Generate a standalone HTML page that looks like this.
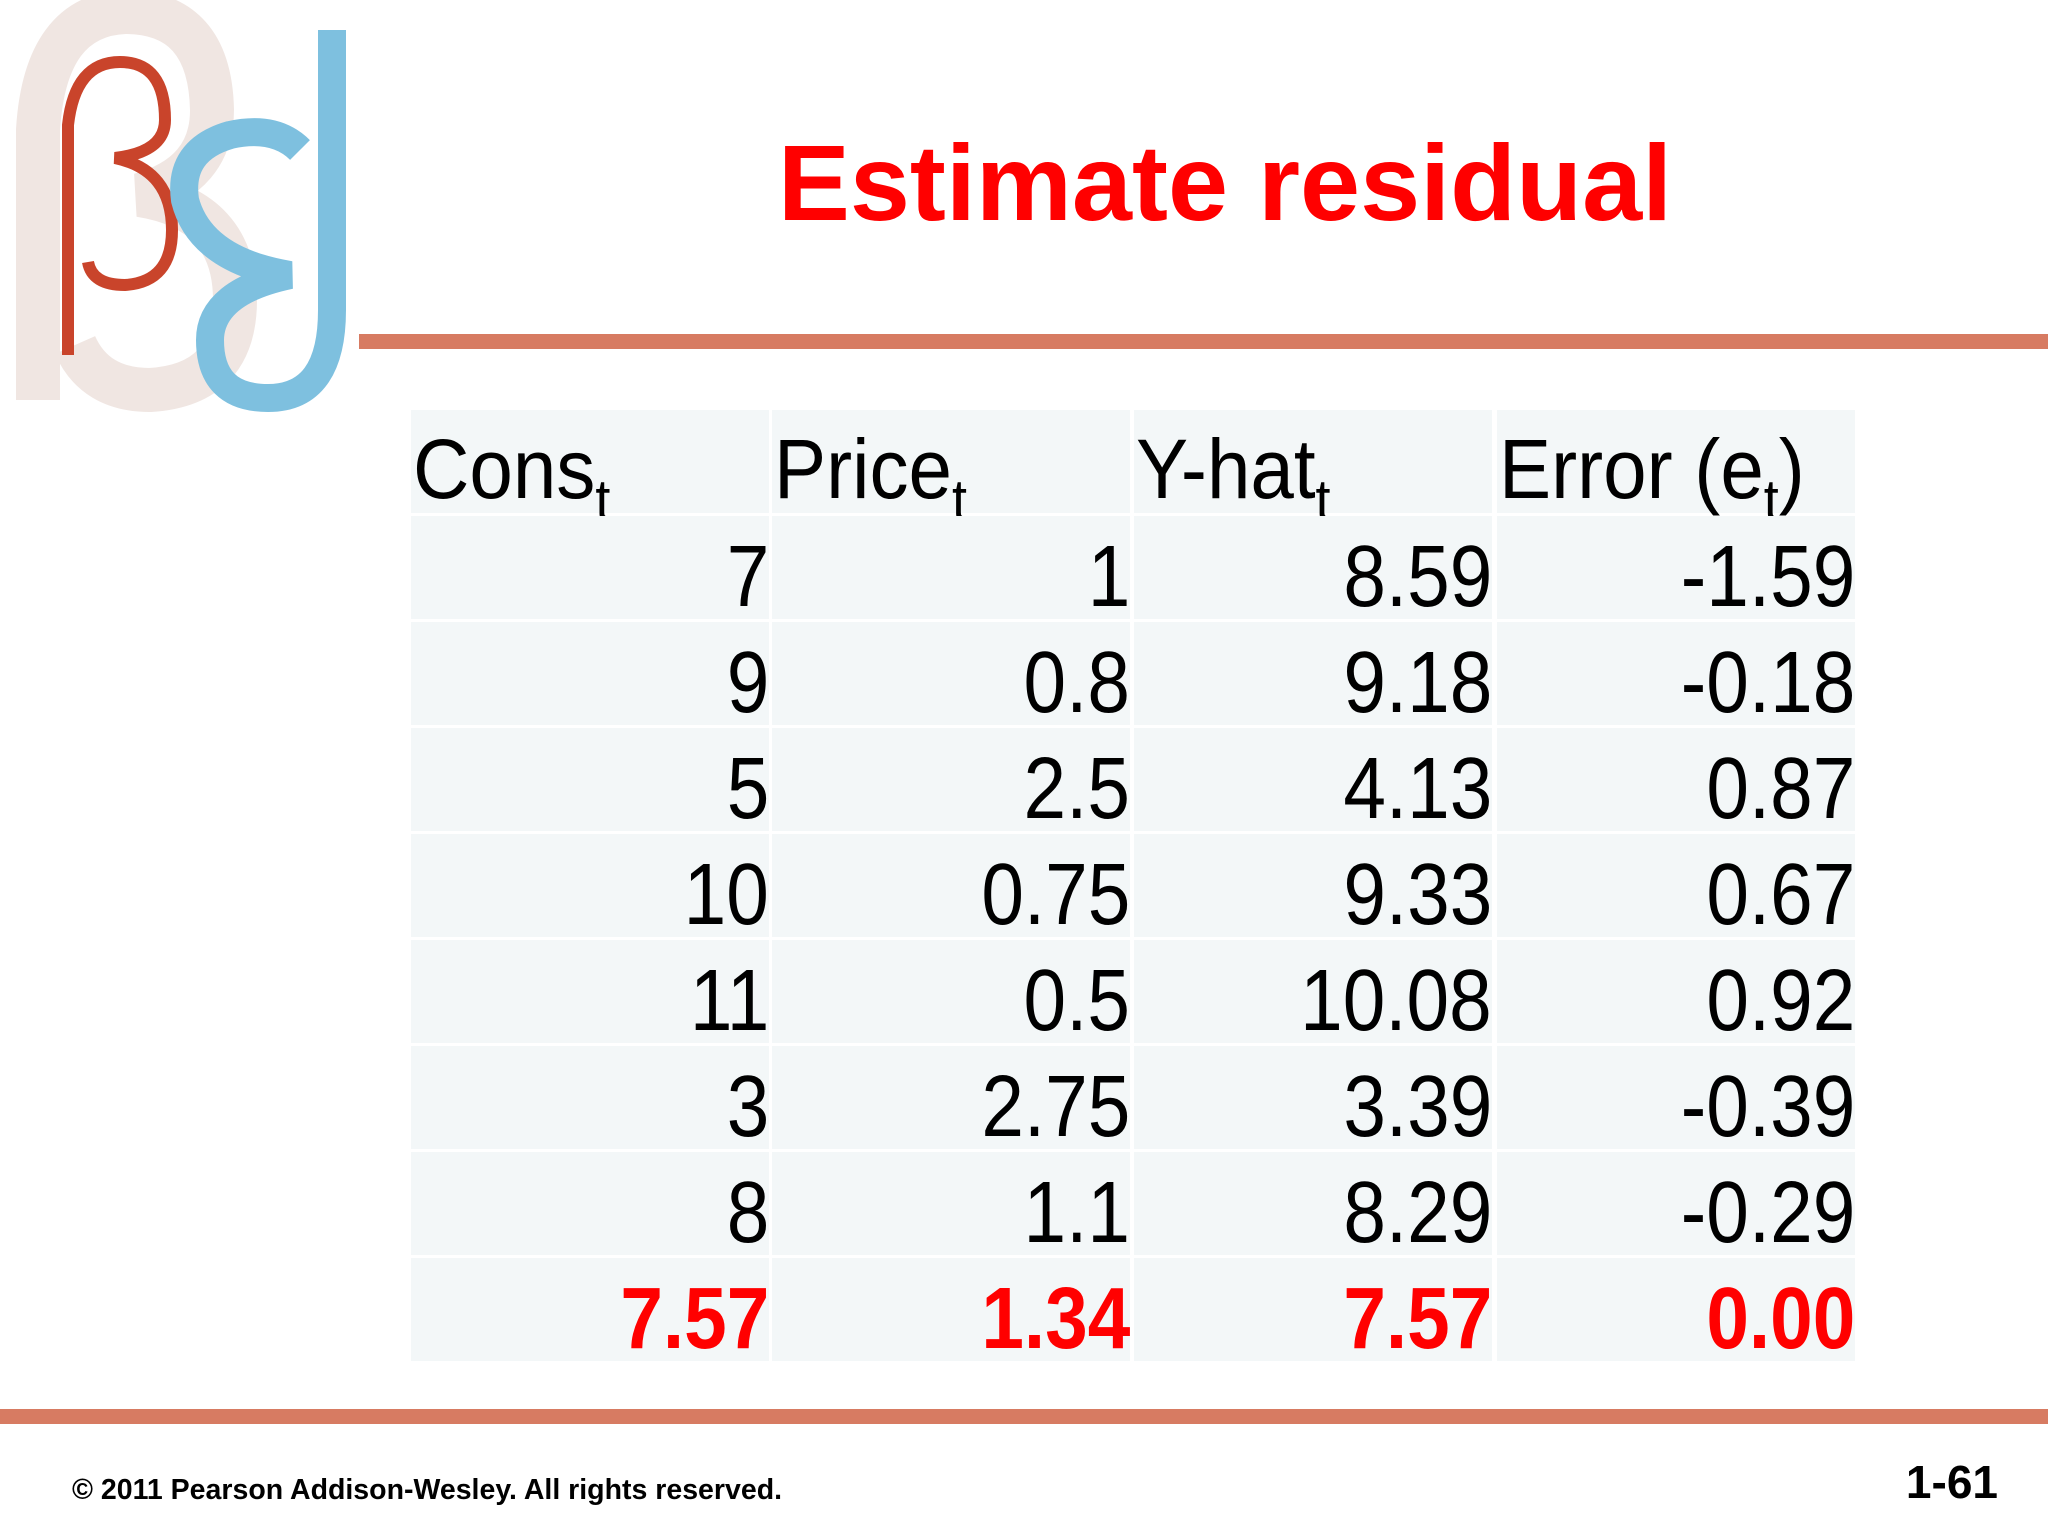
<!DOCTYPE html>
<html><head><meta charset="utf-8"><style>
html,body{margin:0;padding:0;background:#fff;}
#slide{position:relative;width:2048px;height:1536px;overflow:hidden;background:#fff;font-family:"Liberation Sans",sans-serif;}
.title{position:absolute;left:700px;width:1050px;top:118px;text-align:center;font-weight:bold;font-size:108px;color:#f00;line-height:130px;}
.rule{position:absolute;background:#d77b62;}
.cell{position:absolute;background:#f3f7f8;box-sizing:border-box;font-size:87px;color:#000;line-height:122px;white-space:nowrap;overflow:visible;}
.num{text-align:right;padding-right:0px;}
.num span{display:inline-block;transform:scaleX(0.88);transform-origin:right center;}
.hdr{text-align:left;padding-left:2px;font-size:84px;line-height:118px;}
.hdr span{display:inline-block;transform:scaleX(0.93);transform-origin:left center;}
.hdr sub{font-size:58px;vertical-align:-22px;line-height:0;}
.tot{color:#f00;font-weight:bold;}
.foot{position:absolute;font-weight:bold;color:#000;}
</style></head><body>
<div id="slide">
<svg style="position:absolute;left:0;top:0" width="380" height="420">
 <path d="M38 400 L38 130 Q45 15 125 12 Q210 12 212 110 Q212 175 140 195 Q235 210 235 300 Q235 385 150 390 Q95 390 75 345" fill="none" stroke="#f0e6e2" stroke-width="44"/>
 <path d="M68 355 L68 125 Q75 62 120 62 Q165 62 165 120 Q165 152 115 158 Q172 170 172 230 Q172 282 125 285 Q92 285 88 262" fill="none" stroke="#c9442b" stroke-width="12"/>
 <path d="M332 30 L332 310 Q332 398 268 398 Q210 398 210 340 Q210 292 290 275 Q200 260 185 200 Q178 150 230 135 Q275 125 300 150" fill="none" stroke="#7ec0df" stroke-width="28"/>
</svg>
<div class="title">Estimate residual</div>
<div class="rule" style="left:359px;top:334px;width:1689px;height:15px"></div>
<div class="rule" style="left:0;top:1409px;width:2048px;height:15px"></div>
<div class="foot" style="left:72px;top:1474px;font-size:28.5px">© 2011 Pearson Addison-Wesley. All rights reserved.</div>
<div class="foot" style="right:50px;top:1455px;font-size:46px">1-61</div>
</div>
<script>
const headers=[["Cons","t",""],["Price","t",""],["Y-hat","t",""],["Error (e","t",")"]];
const rows=[["7","1","8.59","-1.59"],["9","0.8","9.18","-0.18"],["5","2.5","4.13","0.87"],["10","0.75","9.33","0.67"],["11","0.5","10.08","0.92"],["3","2.75","3.39","-0.39"],["8","1.1","8.29","-0.29"]];
const totals=["7.57","1.34","7.57","0.00"];
const slide=document.getElementById('slide');
const colX=[411,772,1134,1497], colW=361, top0=410, rowH=106;
function mk(x,y,cls){const d=document.createElement('div');d.className='cell '+cls;d.style.left=x+'px';d.style.top=y+'px';d.style.width=(colW-3)+'px';d.style.height=(rowH-3)+'px';slide.appendChild(d);return d;}
headers.forEach((h,c)=>{const d=mk(colX[c],top0,'hdr');d.innerHTML='<span>'+h[0]+'<sub>'+h[1]+'</sub>'+h[2]+'</span>';

});
rows.forEach((r,i)=>r.forEach((v,c)=>{const d=mk(colX[c],top0+rowH*(i+1),'num');d.innerHTML='<span>'+v+'</span>';

}));
totals.forEach((v,c)=>{const d=mk(colX[c],top0+rowH*8,'num tot');d.innerHTML='<span>'+v+'</span>';

});
</script>
</body></html>
